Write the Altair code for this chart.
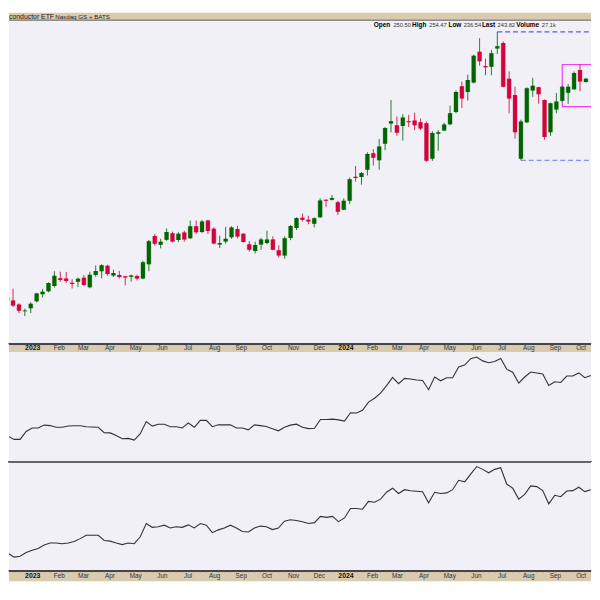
import altair as alt
import numpy as np
import pandas as pd

# ---------------- data (weekly bars) ----------------
first_week = "2022-11-28"

opens = [129.65, 128.00, 125.85, 122.25, 123.90, 127.50, 131.25, 132.75, 135.60, 139.65,
         139.50, 137.25, 137.85, 139.90, 134.85, 141.35, 143.35, 146.15, 141.15, 141.35,
         140.65, 140.40, 140.85, 139.50, 147.00, 161.85, 157.25, 159.85, 163.35, 159.75,
         163.65, 160.65, 167.00, 164.00, 170.00, 165.65, 157.35, 159.00, 161.15, 165.50,
         163.00, 157.50, 154.00, 157.35, 158.15, 160.00, 154.35, 151.65, 160.85, 166.00,
         171.50, 170.35, 168.35, 171.65, 180.85, 180.85, 179.65, 175.65, 180.35, 193.00,
         192.85, 196.65, 205.35, 201.65, 210.35, 221.00, 220.00, 219.65, 222.15, 222.50,
         221.65, 221.15, 202.50, 215.65, 217.35, 220.65, 227.00, 240.50, 237.50, 242.50,
         258.65, 251.15, 250.85, 260.35, 263.35, 244.50, 236.00, 202.50, 221.65, 238.35,
         240.00, 233.35, 216.35, 228.35, 233.00, 237.15, 239.00, 249.15, 242.85]
highs = [129.75, 134.15, 126.50, 123.65, 127.00, 132.00, 134.00, 137.50, 143.35, 143.15,
         143.00, 139.10, 140.00, 141.35, 143.10, 146.35, 147.00, 146.75, 144.15, 143.50,
         140.75, 141.50, 141.50, 148.85, 159.75, 162.85, 160.40, 165.85, 164.15, 163.85,
         164.65, 170.00, 170.00, 170.35, 170.35, 166.35, 162.00, 166.65, 167.00, 167.15,
         163.35, 159.15, 158.85, 160.85, 164.65, 161.65, 157.00, 161.65, 167.65, 171.65,
         173.65, 172.50, 171.65, 181.65, 181.15, 183.35, 180.35, 181.65, 192.50, 198.65,
         195.50, 205.85, 207.50, 212.85, 219.15, 233.35, 224.65, 225.85, 225.50, 226.65,
         223.65, 222.00, 217.00, 217.50, 221.35, 230.35, 238.35, 243.00, 246.65, 257.15,
         265.85, 255.00, 259.65, 269.15, 264.15, 248.35, 240.35, 223.00, 240.00, 245.00,
         240.35, 233.65, 232.00, 237.00, 240.85, 241.65, 248.35, 252.00, 245.00]
lows = [125.85, 124.50, 121.35, 119.75, 121.35, 127.00, 129.50, 132.25, 134.75, 137.75,
        137.25, 134.25, 135.00, 135.50, 134.35, 140.35, 139.65, 141.00, 140.35, 139.50,
        135.85, 137.90, 138.50, 139.15, 143.35, 156.75, 155.35, 159.35, 158.50, 158.65,
        158.85, 160.35, 162.85, 163.35, 162.85, 157.50, 155.50, 157.85, 160.35, 160.65,
        158.35, 153.65, 152.65, 154.65, 157.50, 154.35, 150.50, 149.85, 159.65, 165.00,
        169.50, 168.00, 166.35, 171.35, 177.00, 180.50, 172.85, 175.50, 178.65, 190.50,
        188.85, 193.65, 198.85, 196.65, 207.00, 216.35, 214.50, 212.00, 219.15, 217.50,
        217.50, 200.85, 201.35, 206.65, 217.00, 220.00, 226.35, 229.15, 233.00, 242.00,
        251.35, 246.35, 246.35, 257.50, 240.00, 226.35, 213.00, 201.65, 221.15, 235.00,
        231.35, 212.50, 214.50, 226.35, 232.50, 231.35, 238.65, 238.00, 242.50]
closes = [128.00, 125.35, 122.50, 122.65, 126.25, 131.65, 132.60, 137.15, 140.90, 138.75,
          138.25, 136.60, 139.40, 136.10, 141.50, 143.40, 146.50, 141.85, 142.35, 140.25,
          140.10, 141.10, 139.50, 148.00, 159.10, 157.75, 158.85, 164.00, 159.00, 163.00,
          160.00, 167.00, 163.85, 169.50, 164.50, 157.85, 158.15, 160.35, 166.35, 161.65,
          158.65, 154.65, 157.15, 160.00, 160.00, 154.65, 151.65, 160.65, 167.15, 171.35,
          170.35, 169.50, 171.15, 180.50, 180.35, 181.85, 174.65, 180.35, 191.65, 192.35,
          195.00, 205.00, 203.00, 208.85, 218.65, 222.15, 216.10, 224.15, 221.65, 220.00,
          218.35, 201.35, 216.00, 216.35, 220.50, 226.35, 237.50, 234.15, 243.85, 256.65,
          253.65, 250.50, 257.85, 261.65, 240.35, 234.15, 216.35, 222.00, 239.50, 240.85,
          236.35, 213.85, 231.65, 232.50, 240.35, 240.35, 247.50, 243.00, 244.50]

# indicator panel 2 (relative line) and panel 3 (performance line)
rel_line = [26.5, 26.3, 23.0, 23.0, 31.3, 35.0, 35.0, 38.0, 37.5, 35.7,
            35.7, 37.0, 37.3, 37.3, 36.3, 36.0, 35.7, 30.0, 29.8, 27.0,
            23.7, 24.0, 22.3, 29.0, 41.7, 37.0, 39.0, 39.0, 36.3, 36.3,
            35.0, 40.3, 35.7, 43.0, 43.0, 36.3, 38.3, 38.3, 38.3, 35.0,
            35.0, 33.0, 38.3, 37.5, 36.5, 34.3, 32.0, 35.7, 38.0, 39.0,
            35.7, 34.3, 34.7, 44.0, 44.0, 44.3, 43.5, 42.3, 51.0, 50.7,
            53.7, 62.3, 66.3, 71.7, 79.7, 88.3, 81.7, 87.3, 86.7, 85.5,
            85.0, 75.3, 88.7, 84.7, 88.0, 88.0, 99.3, 101.3, 108.0, 109.7,
            105.7, 103.7, 105.0, 108.3, 97.0, 93.7, 82.3, 88.7, 94.0, 93.0,
            92.0, 79.7, 83.7, 83.0, 89.7, 89.7, 93.0, 88.0, 90.3]
perf_line = [19.0, 18.0, 14.0, 15.0, 19.0, 21.3, 23.3, 27.0, 29.0, 29.0,
             28.3, 29.0, 30.7, 33.7, 37.3, 37.3, 37.3, 31.7, 31.0, 29.0,
             27.3, 29.0, 28.3, 35.7, 49.7, 45.7, 46.3, 48.0, 45.0, 46.3,
             45.7, 48.3, 45.0, 49.7, 48.0, 40.0, 43.0, 45.0, 48.0, 45.0,
             41.3, 40.7, 45.0, 47.0, 46.3, 43.3, 45.0, 52.3, 53.7, 53.0,
             51.7, 49.7, 50.7, 57.3, 56.3, 57.3, 51.7, 55.7, 65.7, 65.7,
             65.0, 73.3, 72.3, 75.7, 83.0, 87.3, 81.7, 85.7, 84.5, 84.0,
             83.5, 71.7, 83.0, 81.7, 82.3, 85.7, 95.7, 94.0, 102.3, 110.3,
             107.3, 103.7, 107.3, 109.0, 91.7, 87.3, 75.7, 80.7, 89.7, 89.0,
             84.7, 70.7, 79.7, 78.3, 84.3, 84.7, 88.3, 83.7, 85.7]

month_dates = ["2023-01-01", "2023-02-01", "2023-03-01", "2023-04-01",
               "2023-05-01", "2023-06-01", "2023-07-01", "2023-08-01", "2023-09-01",
               "2023-10-01", "2023-11-01", "2023-12-01", "2024-01-01", "2024-02-01",
               "2024-03-01", "2024-04-01", "2024-05-01", "2024-06-01", "2024-07-01",
               "2024-08-01", "2024-09-01", "2024-10-01"]
month_labels = ["2023", "Feb", "Mar", "Apr", "May", "Jun", "Jul", "Aug", "Sep",
                "Oct", "Nov", "Dec", "2024", "Feb", "Mar", "Apr", "May", "Jun", "Jul",
                "Aug", "Sep", "Oct"]

title_main = "conductor ETF"
title_exch = "Nasdaq GS + BATS"
quote_parts = ["Open", "250.50", "High", "254.47", "Low", "236.54", "Last", "243.82",
               "Volume", "27.1k"]
quote_bold = [True, False, True, False, True, False, True, False, True, False]
quote_x = [371, 391, 410, 427.5, 447, 462.5, 481, 497, 516, 542]

# ---------------- frames ----------------
weeks = pd.date_range(first_week, periods=len(opens), freq="7D").strftime("%Y-%m-%d")
candles = pd.DataFrame(dict(date=weeks, open=opens, high=highs, low=lows, close=closes))
lines = pd.DataFrame(dict(date=weeks, rel=rel_line, perf=perf_line))

months = pd.DataFrame(dict(date=month_dates, label=month_labels))
months["year"] = months["label"].str.isdigit()

hi_i = int(np.argmax(highs))
lo_i = 87
levels = pd.DataFrame(dict(start=[weeks[hi_i], weeks[lo_i]],
                           end=["2024-12-31", "2024-12-31"],
                           level=[highs[hi_i], lows[lo_i]],
                           kind=["high", "low"]))
box = pd.DataFrame(dict(start=[weeks[94]], end=["2024-12-31"],
                        top=[252.0], bottom=[229.85]))

# ---------------- layout ----------------
W = 592
GREEN = "#006400"
RED = "#d2043c"
BG = "#f0f0f6"
TAN = "#d8cbb0"
FONT = "Liberation Sans"

px_per_day = 6.11 / 7
t0 = pd.Timestamp(first_week)
x_start = t0 + pd.Timedelta(days=7 / px_per_day)
x_end = t0 + pd.Timedelta(days=599 / px_per_day)
xdom = [int(x_start.value // 10**6), int(x_end.value // 10**6)]


def X(field="date"):
    return alt.X(f"{field}:T", scale=alt.Scale(type="utc", domain=xdom), axis=None)


up_color = alt.condition("datum.close >= datum.open", alt.value(GREEN), alt.value(RED))

# header band
header = alt.layer(
    alt.Chart(pd.DataFrame({"t": [title_main]})).mark_text(
        align="left", baseline="alphabetic", font=FONT, fontSize=7, color="#111"
    ).encode(text="t:N", x=alt.value(0), y=alt.value(6.3)),
    alt.Chart(pd.DataFrame({"t": [title_exch]})).mark_text(
        align="left", baseline="alphabetic", font=FONT, fontSize=6.3, color="#222"
    ).encode(text="t:N", x=alt.value(47), y=alt.value(6.3)),
    alt.Chart(pd.DataFrame({"t": [0]})).mark_rule(color="#444", strokeWidth=1).encode(
        x=alt.value(0), x2=alt.value(W), y=alt.value(7.5)),
).properties(width=W, height=8, view=alt.ViewBackground(fill=TAN, stroke=None))

# main price panel
yscale = alt.Scale(domain=[105.5, 275])
base = alt.Chart(candles)
wicks = base.mark_rule(strokeWidth=1, opacity=0.85, clip=True).encode(
    x=X(), y=alt.Y("low:Q", scale=yscale, axis=None), y2="high:Q", color=up_color)
bodies_edge = base.mark_bar(size=5, opacity=0.35, clip=True).encode(
    x=X(), y=alt.Y("open:Q", scale=yscale, axis=None), y2="close:Q", color=up_color)
bodies = base.mark_bar(size=4, clip=True).encode(
    x=X(), y=alt.Y("open:Q", scale=yscale, axis=None), y2="close:Q", color=up_color)
level_rules = alt.Chart(levels).mark_rule(strokeDash=[5, 3], strokeWidth=1.3, clip=True).encode(
    x=X("start"), x2="end:T", y=alt.Y("level:Q", scale=yscale, axis=None),
    color=alt.condition("datum.kind == 'high'", alt.value("#5a5af0"), alt.value("#8c8cf5")))
box_mark = alt.Chart(box).mark_rect(fill=None, stroke="#f040f0", strokeWidth=1.2,
                                    clip=True).encode(
    x=X("start"), x2="end:T", y=alt.Y("top:Q", scale=yscale, axis=None), y2="bottom:Q")

quote_layers = []
for txt, bold, qx in zip(quote_parts, quote_bold, quote_x):
    quote_layers.append(
        alt.Chart(pd.DataFrame({"t": [txt]})).mark_text(
            align="left", baseline="alphabetic", font=FONT,
            fontSize=6.6 if bold else 5.8, fontWeight="bold" if bold else "normal",
            color="#000" if bold else "#333").encode(
            text="t:N", x=alt.value(qx), y=alt.value(6)))

main = alt.layer(level_rules, box_mark, wicks, bodies_edge, bodies, *quote_layers).properties(
    width=W, height=328, view=alt.ViewBackground(fill=BG, stroke=None))


def strip(h):
    mb = alt.Chart(months)
    ticks = alt.Chart(candles).mark_rule(color="#555", strokeWidth=1, clip=True).encode(
        x=X(), y=alt.value(0), y2=alt.value(2))
    border = mb.mark_rule(color="#444", strokeWidth=1).encode(
        x=alt.value(0), x2=alt.value(W), y=alt.value(0.5))
    norm = mb.transform_filter("!datum.year").mark_text(
        font=FONT, fontSize=6.5, color="#333", baseline="middle", dx=1.5
    ).encode(x=X(), y=alt.value(h / 2 + 0.5), text="label:N")
    bold = mb.transform_filter("datum.year").mark_text(
        font=FONT, fontSize=7, fontWeight="bold", color="#111", baseline="middle", dx=1.5
    ).encode(x=X(), y=alt.value(h / 2 + 0.5), text="label:N")
    return alt.layer(border, ticks, norm, bold).properties(
        width=W, height=h, view=alt.ViewBackground(fill=TAN, stroke=None))


lb = alt.Chart(lines)
panel2 = lb.mark_line(color="#333", strokeWidth=1.1, clip=True).encode(
    x=X(), y=alt.Y("rel:Q", scale=alt.Scale(domain=[0, 115]), axis=None)
).properties(width=W, height=111, view=alt.ViewBackground(fill=BG, stroke=None))

panel3 = alt.layer(
    lb.mark_rule(color="#666", strokeWidth=1).encode(
        x=alt.value(0), x2=alt.value(W), y=alt.value(0.5)),
    lb.mark_line(color="#333", strokeWidth=1.1, clip=True).encode(
        x=X(), y=alt.Y("perf:Q", scale=alt.Scale(domain=[0, 116]), axis=None)),
).properties(width=W, height=111, view=alt.ViewBackground(fill=BG, stroke=None))

chart = alt.vconcat(header, main, strip(9), panel2, panel3, strip(11), spacing=0).properties(
    padding=0, background="white"
).configure_view(stroke=None).resolve_scale(x="independent", y="independent")

chart.save("out.html", embed_options={"renderer": "svg", "actions": False})
